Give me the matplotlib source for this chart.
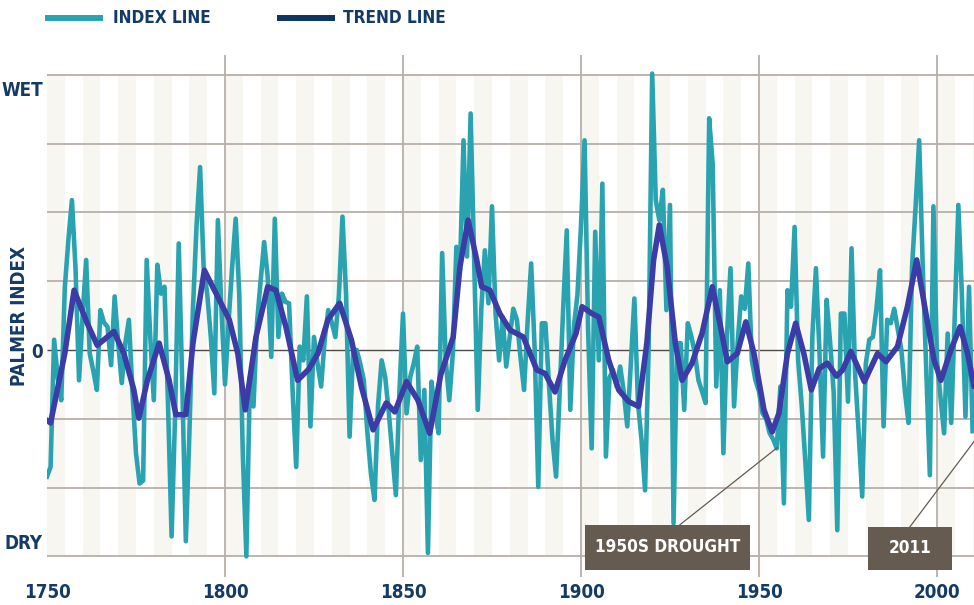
import numpy as np
import matplotlib
matplotlib.use("Agg")
import matplotlib.pyplot as plt
from matplotlib import font_manager
from matplotlib.font_manager import FontProperties
from matplotlib.lines import Line2D
from matplotlib.patches import Rectangle

# annual palmer index, 1750-2010 (one row per decade)
index_vals = [
    -1.84, -1.70, 0.15, -0.40, -0.73, 0.90, 1.60, 2.18, 1.20, -0.44,
    0.50, 1.31, -0.05, -0.30, -0.58, 0.58, 0.40, 0.34, -0.22, 0.78,
    0.10, -0.48, 0.10, 0.44, -0.60, -1.50, -1.94, -1.90, 1.31, 0.20,
    -0.73, 1.24, 0.82, 0.92, -0.80, -2.71, -0.90, 1.55, -0.50, -2.78,
    -1.20, 0.60, 1.80, 2.66, 1.21, 0.82, 0.20, -0.63, 1.89, 0.60,
    -0.50, 0.40, 1.20, 1.91, 0.82, -1.50, -3.00, -0.39, -0.82, 0.40,
    1.00, 1.57, 1.06, -0.10, 1.91, 0.19, 0.82, 0.70, 0.68, -0.60,
    -1.70, 0.05, -0.15, 0.78, -1.11, 0.19, -0.20, -0.53, 0.15, 0.58,
    0.40, 0.19, 0.80, 1.94, 0.82, -1.26, 0.00, 0.00, -0.20, -0.44,
    -1.20, -1.80, -2.18, -0.80, -0.15, -0.39, -0.90, -1.50, -2.11, -0.60,
    0.53, -0.92, -0.40, -0.20, 0.05, -1.60, -0.58, -2.95, -0.46, -0.90,
    -1.21, 1.41, -0.15, -0.73, -0.05, 1.50, 1.16, 3.05, 1.36, 3.44,
    1.31, -0.87, 0.60, 1.45, 0.68, 2.09, 0.53, -0.15, 0.48, -0.24,
    0.20, 0.60, 0.44, -0.10, -0.58, 0.40, 1.26, 0.00, -1.99, 0.39,
    0.39, -0.50, -1.30, -1.84, -0.63, 0.60, 1.74, -0.87, 0.34, 0.80,
    1.80, 3.05, 0.30, -1.43, 1.72, -0.15, 2.42, -1.55, -0.40, -0.29,
    -0.53, -0.24, -0.60, -1.11, -0.20, 0.75, -0.77, -1.30, -2.04, 0.00,
    4.02, 2.18, 1.89, 2.33, 0.58, 2.11, -2.52, 0.10, 0.10, -0.87,
    0.39, 0.20, -0.05, -0.44, -0.60, -0.77, 3.37, 2.70, -0.53, 0.87,
    -1.50, 0.20, 1.19, -0.82, 0.10, 0.78, 0.60, 1.26, -0.15, -0.44,
    -0.60, -0.92, -1.00, -1.21, -1.30, -1.43, -0.53, -2.23, 0.87, 0.63,
    1.79, -0.15, -0.80, -1.60, -2.47, 0.20, 1.19, -0.05, -1.55, 0.73,
    0.10, -0.63, -2.62, 0.53, 0.53, -0.75, 1.48, -0.34, -1.20, -2.13,
    -0.20, 0.15, 0.19, 0.60, 1.16, -1.11, 0.44, 0.39, 0.60, 0.30,
    0.00, -0.60, -1.06, 1.21, 2.09, 3.05, 1.21, -0.30, -1.82, 2.09,
    -0.15, -0.70, -1.21, 0.24, -1.06, 0.50, 2.11, 0.80, -0.97, 0.92,
    -1.18,
]
index_years = np.arange(1750, 1750 + len(index_vals))

# smoothed trend, read at its turning points
trend_years = [1750, 1751, 1755, 1757.6, 1761.3, 1764.1, 1766, 1768.8, 1771.6, 1774.4,
               1775.8, 1778.2, 1781.5, 1784.3, 1786.2, 1789, 1791, 1794.2, 1798.4, 1801.2,
               1803.6, 1805.7, 1808.7, 1812, 1814.3, 1817.1, 1820.4, 1823.5, 1826.1, 1828.9,
               1832.2, 1835.5, 1838.3, 1841.6, 1845.3, 1847.7, 1851, 1854.2, 1857.5, 1860.6,
               1864.1, 1866, 1868.3, 1870.7, 1872.1, 1874.4, 1877.2, 1880.1, 1883.8, 1887.6,
               1889.9, 1892.7, 1895.5, 1898.6, 1900.3, 1903.1, 1905, 1907.8, 1910.6, 1913.4,
               1916.2, 1918.5, 1920.4, 1922, 1924.2, 1926.5, 1928.4, 1931.2, 1934, 1936.9,
               1939.2, 1941.1, 1943.9, 1946.3, 1948.6, 1951.4, 1953.7, 1955.6, 1958, 1960.3,
               1962.6, 1964.7, 1966.9, 1969.2, 1971.8, 1973.5, 1975.8, 1979.6, 1983.3, 1985.7,
               1988.9, 1991.7, 1994.3, 1996.9, 1999.2, 2001.1, 2003.9, 2006.5, 2008.6, 2010.4]
trend_vals = [-1.02, -1.06, -0.05, 0.87, 0.39, 0.07, 0.15, 0.27, -0.05, -0.58,
              -0.99, -0.44, 0.10, -0.44, -0.94, -0.94, 0.10, 1.16, 0.73, 0.44,
              -0.05, -0.87, 0.19, 0.92, 0.87, 0.34, -0.44, -0.28, -0.05, 0.44,
              0.68, 0.15, -0.53, -1.16, -0.77, -0.90, -0.46, -0.73, -1.21, -0.36,
              0.19, 1.21, 1.89, 1.31, 0.92, 0.87, 0.53, 0.29, 0.19, -0.29,
              -0.34, -0.61, -0.15, 0.24, 0.63, 0.53, 0.48, -0.15, -0.58, -0.75,
              -0.82, 0.10, 1.31, 1.82, 1.21, 0.10, -0.44, -0.19, 0.24, 0.92,
              0.34, -0.17, -0.05, 0.41, -0.05, -0.87, -1.19, -0.92, -0.05, 0.39,
              -0.05, -0.58, -0.27, -0.19, -0.38, -0.29, -0.02, -0.46, -0.05, -0.17,
              0.05, 0.63, 1.31, 0.53, -0.15, -0.44, 0.00, 0.34, -0.05, -0.53]

tick_years = [1750, 1800, 1850, 1900, 1950, 2000]
y_labels = ["WET", "0", "DRY"]

TEAL = "#2aa3b1"
TREND = "#3b3ca6"
NAVY = "#0e3561"
TEXT = "#143a66"
GRID = "#b7afa9"
STRIPE = "#f7f6f0"
BOX = "#655b50"


def _weight(w):
    if isinstance(w, (int, float)):
        return w
    return {"bold": 700, "semibold": 600, "normal": 400, "regular": 400}.get(str(w).lower(), 400)


def pick_font():
    # the original uses a bold condensed face; take one if any is installed
    best = None
    for f in font_manager.fontManager.ttflist:
        n = f.name.lower()
        st = str(f.stretch).lower()
        if "serif" in n or "mono" in n:
            continue
        if not ("condensed" in n or "narrow" in n or "condensed" in st):
            continue
        score = (abs(_weight(f.weight) - 700), "extra" in st or "ultra" in st, "italic" in str(f.style))
        if best is None or score < best[0]:
            best = (score, f.fname)
    if best is not None:
        return best[1], 13.5
    return None, 12.5


font_path, FS = pick_font()
if font_path:
    FP = FontProperties(fname=font_path, size=FS)
else:
    FP = FontProperties(family=["Roboto", "DejaVu Sans"], weight="bold", size=FS)
FP_SMALL = FP.copy()
FP_SMALL.set_size(FS - 1.2)

fig = plt.figure(figsize=(9.74, 6.05), dpi=100)
ax = fig.add_axes([47 / 974, 28 / 605, 927 / 974, 522 / 605])

x_max = 2010.4
ax.set_xlim(1750, x_max)
ax.set_ylim(-3.30, 4.29)

# alternating five-year stripes
stripe_starts = np.arange(1750, 2011, 10)
ax.bar(stripe_starts, 7, width=5, bottom=-3, align="edge", color=STRIPE, lw=0, zorder=0)

for v in range(-3, 5):
    if v == 0:
        ax.hlines(v, 1750, x_max, color="#4d4a48", lw=1.0, zorder=1)
    else:
        ax.hlines(v, 1750, x_max, color=GRID, lw=1.3, zorder=1)
for yr in tick_years[1:]:
    ax.axvline(yr, color=GRID, lw=1.3, zorder=1)

ax.plot(index_years, index_vals, color=TEAL, lw=3.3, solid_joinstyle="round", zorder=3)
ax.plot(trend_years, trend_vals, color=TREND, lw=4.0, solid_joinstyle="round",
        solid_capstyle="round", zorder=4)

for s in ax.spines.values():
    s.set_visible(False)

ax.set_xticks(tick_years)
ax.set_xticklabels([str(y) for y in tick_years])
ax.set_yticks([3.81, 0, -2.79])
ax.set_yticklabels(y_labels)
ax.tick_params(length=0)
ax.tick_params(axis="x", pad=4)
ax.tick_params(axis="y", pad=3)
for lab in ax.get_xticklabels() + ax.get_yticklabels():
    lab.set_fontproperties(FP)
    lab.set_color(TEXT)
ax.set_ylabel("PALMER INDEX", fontproperties=FP, color=TEXT)
ax.yaxis.set_label_coords(-18 / 927, 0.5)

# callout boxes and leader lines
callouts = [
    ("1950S DROUGHT", (1901.1, -3.20), 46.4, 0.66, (1927.8, -2.54), (1955.1, -1.42)),
    ("2011", (1980.6, -3.20), 23.6, 0.63, (1992.4, -2.57), (2011.0, -1.29)),
]
for label, (bx, by), bw, bh, start, end in callouts:
    ax.add_patch(Rectangle((bx, by), bw, bh, fc=BOX, ec="none", zorder=6, clip_on=False))
    ax.text(bx + bw / 2, by + bh / 2, label, ha="center", va="center", color="white",
            fontproperties=FP_SMALL, zorder=7)
    ax.plot([start[0], end[0]], [start[1], end[1]], color=BOX, lw=0.9, zorder=5, clip_on=False)

# legend across the top
ly = 1 - 18 / 605
fig.add_artist(Line2D([48 / 974, 100 / 974], [ly, ly], color=TEAL, lw=4.3,
                      transform=fig.transFigure))
fig.text(113 / 974, ly, "INDEX LINE", color=TEXT, fontproperties=FP_SMALL, va="center")
fig.add_artist(Line2D([280 / 974, 332 / 974], [ly, ly], color=NAVY, lw=4.3,
                      transform=fig.transFigure))
fig.text(343 / 974, ly, "TREND LINE", color=TEXT, fontproperties=FP_SMALL, va="center")

fig.savefig("out.png", dpi=100)
